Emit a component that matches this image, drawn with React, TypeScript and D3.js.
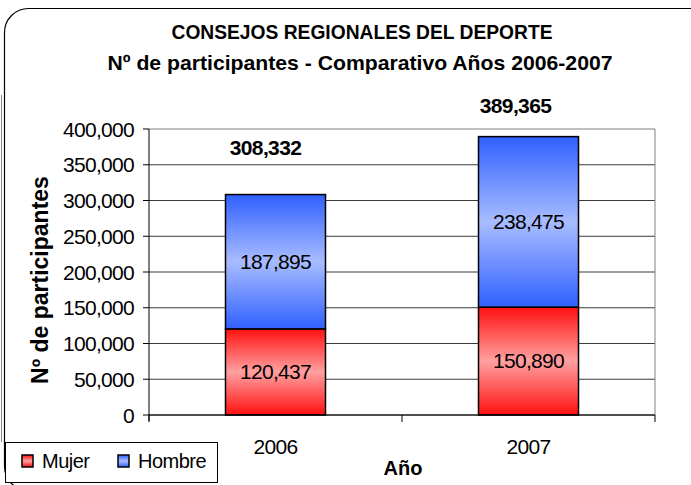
import React from "react";
import * as d3 from "d3";

/* data */
const YEARS = ["2006", "2007"];
const MUJER = [120437, 150890];
const HOMBRE = [187895, 238475];
const TOTALS = [308332, 389365];
const Y_TICKS = [0, 50000, 100000, 150000, 200000, 250000, 300000, 350000, 400000];
const SERIES = ["Mujer", "Hombre"];

const W = 691;
const H = 485;
const M = { top: 129, right: 36, bottom: 70, left: 149 };
const FONT = "'Liberation Sans', Arial, sans-serif";

export default function App() {
  const x = d3.scaleBand().domain(YEARS).range([M.left, W - M.right]);
  const y = d3.scaleLinear().domain([0, 400000]).range([H - M.bottom, M.top]);
  const fmt = d3.format(",");
  const bw = 100;

  const stack = d3.stack<any>().keys(SERIES)(
    YEARS.map((yr, i) => ({ year: yr, Mujer: MUJER[i], Hombre: HOMBRE[i] }))
  );
  const fills: Record<string, string> = { Mujer: "url(#gRed)", Hombre: "url(#gBlue)" };

  return (
    <svg width={W} height={H} style={{ position: "absolute", left: 0, top: 0 }} fontFamily={FONT}>
      <defs>
        <linearGradient id="gRed" x1="0" y1="0" x2="0" y2="1">
          <stop offset="0" stopColor="#ff1010" />
          <stop offset="0.5" stopColor="#ffa0a0" />
          <stop offset="1" stopColor="#ff1010" />
        </linearGradient>
        <linearGradient id="gBlue" x1="0" y1="0" x2="0" y2="1">
          <stop offset="0" stopColor="#3060ff" />
          <stop offset="0.5" stopColor="#a8bcff" />
          <stop offset="1" stopColor="#3060ff" />
        </linearGradient>
      </defs>
      <rect width={W} height={H} fill="#fff" />
      {/* outer chart frame, cut by the picture edges */}
      <line x1={1.5} x2={1.5} y1={95} y2={442} stroke="#888" />
      <rect x={4.5} y={8.5} width={W + 20} height={482} rx={24} fill="none" stroke="#000" strokeWidth={1.2} />

      {/* title */}
      <text x={362} y={39} textAnchor="middle" fontSize={21} fontWeight="bold" textLength={381} lengthAdjust="spacingAndGlyphs">
        CONSEJOS REGIONALES DEL DEPORTE
      </text>
      <text x={360} y={70} textAnchor="middle" fontSize={21} fontWeight="bold" textLength={505} lengthAdjust="spacingAndGlyphs">
        Nº de participantes - Comparativo Años 2006-2007
      </text>

      {/* gridlines */}
      {Y_TICKS.map((t) => (
        <line key={t} x1={M.left} x2={W - M.right} y1={y(t)} y2={y(t)} stroke={t === 400000 ? "#808080" : "#3a3a3a"} strokeWidth={1} />
      ))}
      <line x1={W - M.right} x2={W - M.right} y1={M.top} y2={H - M.bottom} stroke="#808080" />

      {/* bars */}
      {stack.map((s) =>
        s.map((d, i) => {
          const cx = x(YEARS[i])! + x.bandwidth() / 2;
          const y0 = y(d[1]);
          const y1 = y(d[0]);
          return (
            <g key={s.key + i}>
              <rect x={cx - bw / 2} y={y0} width={bw} height={y1 - y0} fill={fills[s.key]} stroke="#000" strokeWidth={1.5} />
              <text x={cx} y={(y0 + y1) / 2 + 7} textAnchor="middle" fontSize={21} letterSpacing={-0.7}>
                {fmt(d[1] - d[0])}
              </text>
            </g>
          );
        })
      )}

      {/* totals */}
      {YEARS.map((yr, i) => {
        const cx = x(yr)! + x.bandwidth() / 2;
        return (
          <text key={yr} x={cx - (i === 0 ? 10 : 13)} y={y(TOTALS[i]) - (i === 0 ? 40 : 24)} textAnchor="middle" fontSize={21} fontWeight="bold" letterSpacing={-0.6}>
            {fmt(TOTALS[i])}
          </text>
        );
      })}

      {/* axes */}
      <line x1={M.left} x2={M.left} y1={M.top} y2={H - M.bottom + 6} stroke="#000" />
      <line x1={M.left} x2={W - M.right} y1={H - M.bottom} y2={H - M.bottom} stroke="#000" />
      {Y_TICKS.map((t) => (
        <g key={t}>
          <line x1={M.left - 6} x2={M.left} y1={y(t)} y2={y(t)} stroke="#000" />
          <text x={M.left - 15} y={y(t) + 7.5} textAnchor="end" fontSize={21} letterSpacing={-0.7}>
            {fmt(t)}
          </text>
        </g>
      ))}
      {[...YEARS.map((yr) => x(yr)!), W - M.right].map((px) => (
        <line key={px} x1={px} x2={px} y1={H - M.bottom} y2={H - M.bottom + 7} stroke="#000" />
      ))}
      {YEARS.map((yr) => (
        <text key={yr} x={x(yr)! + x.bandwidth() / 2} y={454} textAnchor="middle" fontSize={21} letterSpacing={-0.7}>
          {yr}
        </text>
      ))}
      <text x={403} y={475} textAnchor="middle" fontSize={20} fontWeight="bold">
        Año
      </text>
      <text transform={`translate(48,280) rotate(-90)`} textAnchor="middle" fontSize={23} fontWeight="bold">
        Nº de participantes
      </text>

      {/* legend */}
      <rect x={5.5} y={442.5} width={212} height={40} fill="#fff" stroke="#000" strokeWidth={1} />
      {SERIES.map((s, i) => (
        <g key={s} transform={`translate(${22 + i * 96},455)`}>
          <rect width={11} height={12} fill={fills[s]} stroke="#000" strokeWidth={1.5} />
          <text x={20} y={13} fontSize={20} letterSpacing={-0.5}>
            {s}
          </text>
        </g>
      ))}
    </svg>
  );
}
